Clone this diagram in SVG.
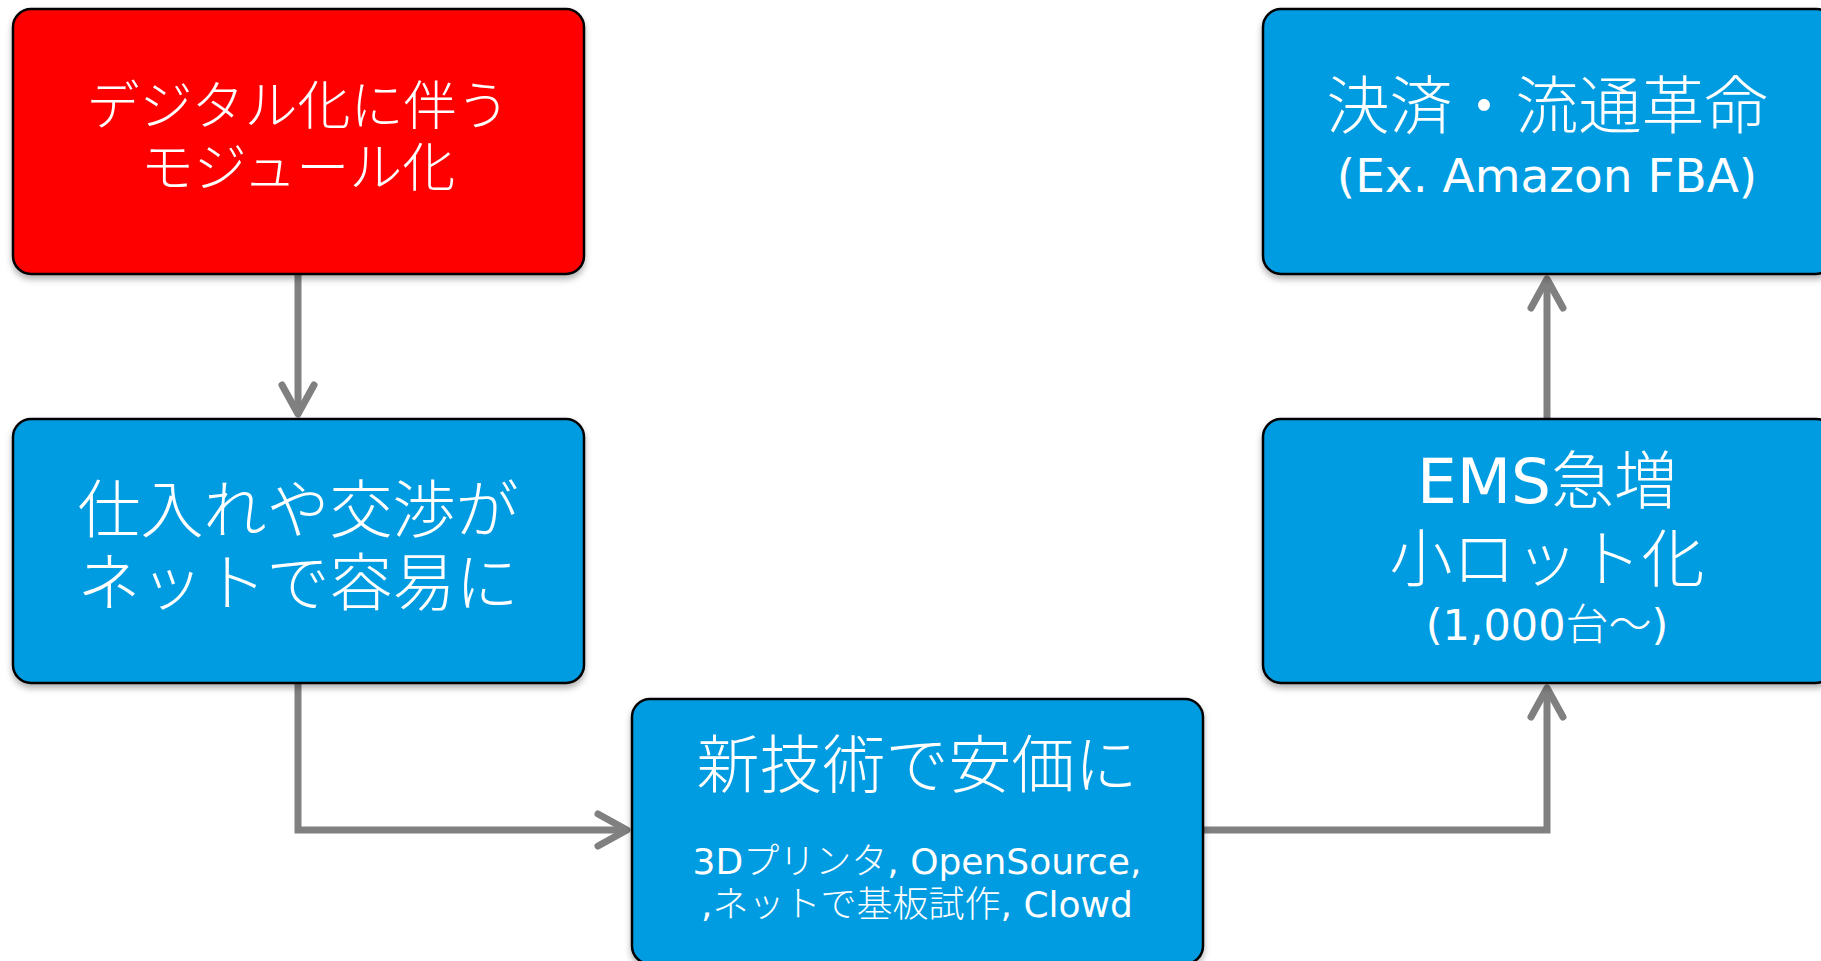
<svg xmlns="http://www.w3.org/2000/svg" width="1821" height="961" viewBox="0 0 1821 961">
<style>
.box{stroke:#000;stroke-width:2.5;filter:url(#sh)}
.red{fill:#FF0000}
.blue{fill:#049CE1}
.t{fill:#fff;font-family:"DejaVu Sans","Noto Sans CJK JP",sans-serif;font-weight:300;text-anchor:middle;dominant-baseline:central}
.l{font-weight:400}
.c{fill:none;stroke:#808080;stroke-width:7;marker-end:url(#ah)}
</style>
<defs>
<filter id="sh" x="-5%" y="-5%" width="110%" height="115%">
<feDropShadow dx="0" dy="4" stdDeviation="3" flood-color="#000" flood-opacity="0.3"/>
</filter>
<marker id="ah" markerUnits="userSpaceOnUse" viewBox="-40 -22 50 44" markerWidth="50" markerHeight="44" refX="0" refY="0" orient="auto" overflow="visible">
<path d="M-29,-16 L0,0 L-29,16" fill="none" stroke="#808080" stroke-width="7" stroke-linecap="round" stroke-linejoin="round"/>
</marker>
</defs>
<g id="connectors">
<path class="c" d="M298,274 L298,414"/>
<path class="c" d="M298,683 L298,830 L627,830"/>
<path class="c" d="M1202,830 L1547,830 L1547,688"/>
<path class="c" d="M1547,419 L1547,279"/>
</g>
<g id="n1">
<rect class="box red" x="13" y="9" width="571" height="265" rx="18"/>
<text class="t" x="298" y="106" font-size="53">デジタル化に伴う</text>
<text class="t" x="298" y="168" font-size="53">モジュール化</text>
</g>
<g id="n2">
<rect class="box blue" x="13" y="419" width="571" height="264" rx="18"/>
<text class="t" x="298" y="510" font-size="63">仕入れや交渉が</text>
<text class="t" x="298" y="583" font-size="63">ネットで容易に</text>
</g>
<g id="n3">
<rect class="box blue" x="632" y="699" width="571" height="265" rx="18"/>
<text class="t" x="917" y="765" font-size="63">新技術で安価に</text>
<text class="t" x="917" y="861" font-size="36"><tspan class="l">3D</tspan>プリンタ<tspan class="l">, OpenSource,</tspan></text>
<text class="t" x="917" y="904" font-size="36"><tspan class="l">,</tspan>ネットで基板試作<tspan class="l">, Clowd</tspan></text>
</g>
<g id="n4">
<rect class="box blue" x="1263" y="419" width="571" height="264" rx="18"/>
<text class="t" x="1547" y="481" font-size="63"><tspan class="l">EMS</tspan>急増</text>
<text class="t" x="1547" y="559" font-size="63">小ロット化</text>
<text class="t" x="1547" y="625" font-size="43"><tspan class="l">(1,000</tspan>台〜<tspan class="l">)</tspan></text>
</g>
<g id="n5">
<rect class="box blue" x="1263" y="9" width="571" height="265" rx="18"/>
<text class="t" x="1547" y="106" font-size="63">決済・流通革命</text>
<text class="t l" x="1547" y="175" font-size="47">(Ex. Amazon FBA)</text>
</g>
</svg>
